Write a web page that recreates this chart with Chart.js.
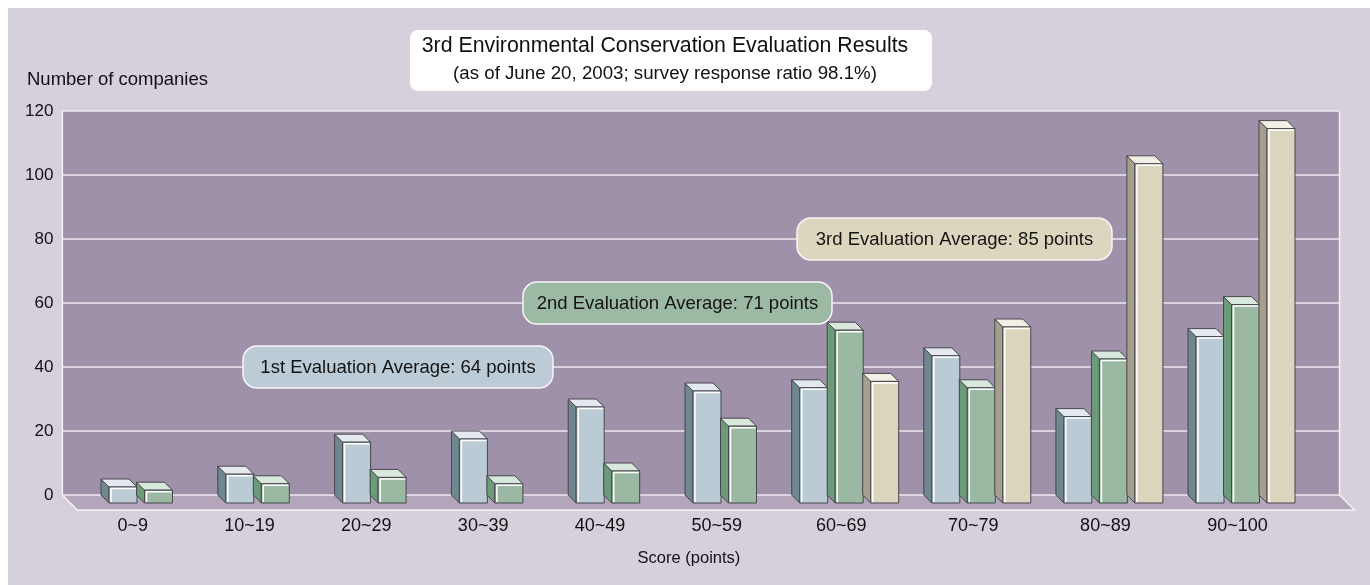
<!DOCTYPE html>
<html lang="en">
<head>
<meta charset="UTF-8">
<title>3rd Environmental Conservation Evaluation Results</title>
<script src="https://cdn.jsdelivr.net/npm/chart.js@4"></script>
<style>
  html, body { margin: 0; padding: 0; background: #fff; }
  #wrap { width: 1370px; height: 585px; position: relative; }
</style>
</head>
<body>
<div id="wrap"><canvas id="chart"></canvas></div>
<script>
// data
const categories = ['0~9', '10~19', '20~29', '30~39', '40~49', '50~59', '60~69', '70~79', '80~89', '90~100'];
const firstEval  = [5, 9, 19, 20, 30, 35, 36, 46, 27, 52];
const secondEval = [4, 6, 8, 6, 10, 24, 54, 36, 45, 62];
const thirdEval  = [null, null, null, null, null, null, 38, 55, 106, 117];
const seriesNames = ['1st Evaluation', '2nd Evaluation', '3rd Evaluation'];
const averageTexts = ['1st Evaluation Average: 64 points', '2nd Evaluation Average: 71 points', '3rd Evaluation Average: 85 points'];
const averageLines = [40, 60, 80];   // gridline each average box sits on
const yMin = 0, yMax = 120, yStep = 20;
const titleLines = ['3rd Environmental Conservation Evaluation Results', '(as of June 20, 2003; survey response ratio 98.1%)'];
const yTitle = 'Number of companies';
const xTitle = 'Score (points)';

const FONT = "'Liberation Sans', Arial, sans-serif";
const DEPTH = 8;      // bar depth in px
const FLOOR = 15;     // floor depth in px

const colors = [
  { face: '#bacbd6', side: '#6f878e', cap: '#e3e9ee', box: '#bccbd6' },
  { face: '#9bb9a2', side: '#6b9b79', cap: '#d9e8dc', box: '#9cb9a3' },
  { face: '#dcd5bd', side: '#a5a08e', cap: '#f2efe4', box: '#ddd6bf' }
];

// category scale whose slots get wider when more bars sit in them
class GroupedCategoryScale extends Chart.CategoryScale {
  getPixelForValue(value) {
    if (typeof value !== 'number') value = this.parse(value);
    if (value === null || isNaN(value)) return NaN;
    const sets = this.chart.data.datasets;
    const n = this.chart.data.labels.length;
    const w = [];
    for (let i = 0; i < n; i++) {
      const count = sets.filter(d => d.data[i] !== null && d.data[i] !== undefined).length;
      w.push(86.2 + 15.3 * count);
    }
    const total = w.reduce((a, b) => a + b, 0);
    const idx = Math.max(0, Math.min(n - 1, Math.round(value)));
    let acc = 0;
    for (let i = 0; i < idx; i++) acc += w[i];
    return this.left + (acc + w[idx] / 2) / total * this.width;
  }
}
GroupedCategoryScale.id = 'groupedCategory';
GroupedCategoryScale.defaults = Chart.CategoryScale.defaults;
Chart.register(GroupedCategoryScale);

function roundRect(ctx, x, y, w, h, r) {
  ctx.beginPath();
  ctx.moveTo(x + r, y);
  ctx.lineTo(x + w - r, y);
  ctx.arcTo(x + w, y, x + w, y + r, r);
  ctx.lineTo(x + w, y + h - r);
  ctx.arcTo(x + w, y + h, x + w - r, y + h, r);
  ctx.lineTo(x + r, y + h);
  ctx.arcTo(x, y + h, x, y + h - r, r);
  ctx.lineTo(x, y + r);
  ctx.arcTo(x, y, x + r, y, r);
  ctx.closePath();
}

function drawCube(ctx, x0, x1, top, base, c) {
  const d = DEPTH;
  ctx.save();
  ctx.lineWidth = 1;
  ctx.strokeStyle = '#47474c';
  ctx.lineJoin = 'round';
  // left side
  ctx.beginPath();
  ctx.moveTo(x0, top); ctx.lineTo(x0 + d, top + d); ctx.lineTo(x0 + d, base + d); ctx.lineTo(x0, base);
  ctx.closePath();
  ctx.fillStyle = c.side; ctx.fill(); ctx.stroke();
  // top
  ctx.beginPath();
  ctx.moveTo(x0, top); ctx.lineTo(x1, top); ctx.lineTo(x1 + d, top + d); ctx.lineTo(x0 + d, top + d);
  ctx.closePath();
  ctx.fillStyle = c.cap; ctx.fill(); ctx.stroke();
  // front
  ctx.fillStyle = c.face;
  ctx.fillRect(x0 + d, top + d, x1 - x0, base - top);
  ctx.strokeRect(x0 + d, top + d, x1 - x0, base - top);
  // highlight
  ctx.strokeStyle = '#ffffff';
  ctx.lineWidth = 1.5;
  ctx.beginPath();
  ctx.moveTo(x0 + d + 2, base + d - 1);
  ctx.lineTo(x0 + d + 2, top + d + 1.5);
  ctx.lineTo(x1 + d - 1, top + d + 1.5);
  ctx.stroke();
  ctx.restore();
}

const backdrop = {
  id: 'backdrop',
  beforeDraw(chart) {
    const { ctx, chartArea: ca, scales } = chart;
    const y = scales.y;
    const wl = ca.left - 12, wr = ca.right + 36;
    ctx.save();
    ctx.fillStyle = '#ffffff';
    ctx.fillRect(0, 0, chart.width, chart.height);
    ctx.fillStyle = '#d5d0dc';
    ctx.fillRect(8, 8, chart.width - 8, chart.height - 8);

    // back wall
    ctx.fillStyle = '#a091aa';
    ctx.fillRect(wl, ca.top, wr - wl, ca.bottom - ca.top);
    // floor
    ctx.beginPath();
    ctx.moveTo(wl, ca.bottom); ctx.lineTo(wr, ca.bottom);
    ctx.lineTo(wr + FLOOR, ca.bottom + FLOOR); ctx.lineTo(wl + FLOOR, ca.bottom + FLOOR);
    ctx.closePath();
    ctx.fillStyle = '#b3a6bb';
    ctx.fill();
    ctx.strokeStyle = '#f4f1f6';
    ctx.lineWidth = 1.5;
    ctx.beginPath();
    ctx.moveTo(wl, ca.bottom); ctx.lineTo(wl + FLOOR, ca.bottom + FLOOR);
    ctx.lineTo(wr + FLOOR, ca.bottom + FLOOR); ctx.lineTo(wr, ca.bottom);
    ctx.moveTo(wl, ca.bottom); ctx.lineTo(wl, ca.top);
    ctx.moveTo(wr, ca.bottom); ctx.lineTo(wr, ca.top);
    ctx.stroke();

    // gridlines on the wall
    ctx.strokeStyle = '#ece8f0';
    ctx.lineWidth = 1.5;
    y.ticks.forEach(t => {
      const py = y.getPixelForValue(t.value);
      ctx.beginPath(); ctx.moveTo(wl, py); ctx.lineTo(wr, py); ctx.stroke();
    });

    // title box
    ctx.fillStyle = '#ffffff';
    roundRect(ctx, 410, 30, 522, 61, 8);
    ctx.fill();
    ctx.fillStyle = '#111111';
    ctx.textAlign = 'center';
    ctx.textBaseline = 'middle';
    ctx.font = '21.3px ' + FONT;
    ctx.fillText(titleLines[0], 665, 46);
    ctx.font = '18.7px ' + FONT;
    ctx.fillText(titleLines[1], 665, 74);

    // y axis title
    ctx.textAlign = 'left';
    ctx.font = '18.5px ' + FONT;
    ctx.fillText(yTitle, 27, 80);

    // average boxes
    const boxes = [[243, 310], [523, 309], [797, 315]];
    averageTexts.forEach((txt, i) => {
      const cy = y.getPixelForValue(averageLines[i]);
      const [bx, bw] = boxes[i];
      roundRect(ctx, bx, cy - 21, bw, 42, 14);
      ctx.fillStyle = colors[i].box;
      ctx.fill();
      ctx.strokeStyle = '#f7f5f8';
      ctx.lineWidth = 1.5;
      ctx.stroke();
      ctx.fillStyle = '#141414';
      ctx.textAlign = 'center';
      ctx.font = '18.5px ' + FONT;
      ctx.fillText(txt, bx + bw / 2, cy + 1);
    });
    ctx.restore();
  },
  afterDatasetsDraw(chart) {
    const { ctx } = chart;
    chart.data.datasets.forEach((ds, di) => {
      const meta = chart.getDatasetMeta(di);
      meta.data.forEach((bar, i) => {
        if (ds.data[i] === null) return;
        const { x, y, base, width } = bar.getProps(['x', 'y', 'base', 'width'], true);
        drawCube(ctx, x - width / 2, x + width / 2, y, base, colors[di]);
      });
    });
  }
};

new Chart(document.getElementById('chart'), {
  type: 'bar',
  data: {
    labels: categories,
    datasets: [
      { label: seriesNames[0], data: firstEval },
      { label: seriesNames[1], data: secondEval },
      { label: seriesNames[2], data: thirdEval }
    ].map(d => Object.assign(d, {
      backgroundColor: 'rgba(0,0,0,0)',
      borderWidth: 0,
      barThickness: 35.5,
      maxBarThickness: 28,
      skipNull: true
    }))
  },
  options: {
    responsive: true,
    maintainAspectRatio: false,
    animation: false,
    events: [],
    layout: { padding: { left: 0, right: 66.45, top: 111, bottom: 0 } },
    plugins: { legend: { display: false }, tooltip: { enabled: false }, title: { display: false } },
    scales: {
      x: {
        type: 'groupedCategory',
        grid: { display: false, drawTicks: false },
        border: { display: false },
        ticks: { color: '#111', font: { family: FONT, size: 18 }, padding: 20, autoSkip: false, maxRotation: 0 },
        title: { display: true, text: xTitle, color: '#111', font: { family: FONT, size: 16.5 }, padding: { top: 0, bottom: 17 } },
        afterFit(scale) { scale.height = 90; }
      },
      y: {
        min: yMin,
        max: yMax,
        grid: { display: false, drawTicks: false },
        border: { display: false },
        ticks: { stepSize: yStep, color: '#111', font: { family: FONT, size: 17 }, padding: 21 },
        afterFit(scale) { scale.width = 74.35; }
      }
    }
  },
  plugins: [backdrop]
});
</script>
</body>
</html>
